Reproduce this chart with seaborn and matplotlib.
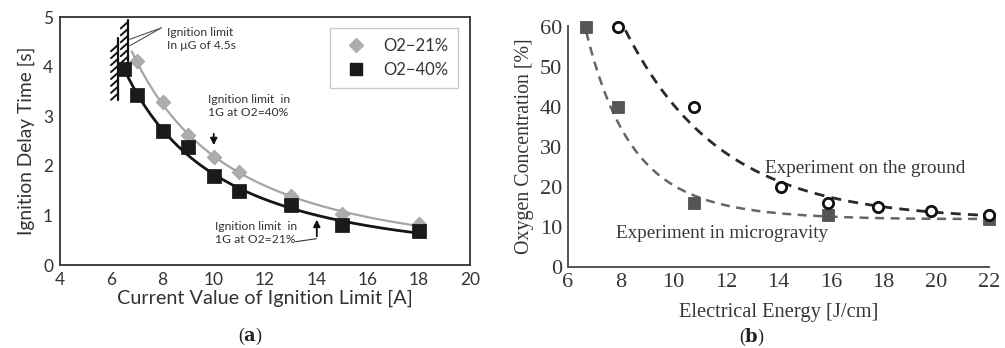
import numpy as np
import pandas as pd
import matplotlib
matplotlib.use("Agg")
import matplotlib.pyplot as plt
from matplotlib.lines import Line2D
import seaborn as sns

# ---------------- data: panel (a) ----------------
a_x21 = [7, 8, 9, 10, 11, 13, 15, 18]
a_y21 = [4.12, 3.28, 2.62, 2.17, 1.88, 1.40, 1.02, 0.82]
a_x40 = [6.5, 7, 8, 9, 10, 11, 13, 15, 18]
a_y40 = [3.95, 3.42, 2.70, 2.37, 1.80, 1.50, 1.20, 0.80, 0.68]
a_xticks = [4, 6, 8, 10, 12, 14, 16, 18, 20]
a_yticks = [0, 1, 2, 3, 4, 5]
a_labels = ["O2\u221221%", "O2\u221240%"]

# ---------------- data: panel (b) ----------------
b_x_ground = [7.9, 10.8, 14.1, 15.9, 17.8, 19.8, 22.0]
b_y_ground = [60, 40, 20, 16, 15, 14, 13]
b_x_micro = [6.7, 7.9, 10.8, 15.9, 22.0]
b_y_micro = [60, 40, 16, 13, 12]
b_xticks = [6, 8, 10, 12, 14, 16, 18, 20, 22]
b_yticks = [0, 10, 20, 30, 40, 50, 60]

sns.set_theme(style="white")
plt.rcParams["font.family"] = ["Lato", "DejaVu Sans"]
plt.rcParams["mathtext.fontset"] = "dejavuserif"

fig = plt.figure(figsize=(10.05, 3.48), dpi=100)
axA = fig.add_axes([0.0597, 0.2385, 0.408, 0.7126])
axB = fig.add_axes([0.565, 0.2328, 0.419, 0.692])

# ---------------- panel (a) ----------------
def power_fit(x, y):
    p = np.polyfit(np.log(x), np.log(y), 1)
    return lambda t: np.exp(np.polyval(p, np.log(t)))

f21 = power_fit(a_x21, a_y21)
f40 = power_fit(a_x40, a_y40)
t21 = np.linspace(6.8, 18, 200)
t40 = np.linspace(6.5, 18, 200)
sns.lineplot(x=t21, y=f21(t21), ax=axA, color="#a5a5a5", lw=1.6, sort=False)
sns.lineplot(x=t40, y=f40(t40), ax=axA, color="#151515", lw=2.0, sort=False)
sns.scatterplot(x=a_x21, y=a_y21, ax=axA, marker="D", s=55, color="#adadad",
                edgecolor="#a0a0a0", linewidth=0.6, zorder=5)
sns.scatterplot(x=a_x40, y=a_y40, ax=axA, marker="s", s=95, color="#1a1a1a",
                edgecolor="#111111", linewidth=0.5, zorder=6)

axA.set_xlim(4, 20)
axA.set_ylim(0, 5)
axA.set_xticks(a_xticks)
axA.set_yticks(a_yticks)
axA.tick_params(length=0, labelsize=12.5, colors="#333333", pad=5)
for s in axA.spines.values():
    s.set_visible(True)
    s.set_color("#333333")
    s.set_linewidth(1.3)
axA.set_xlabel("Current Value of Ignition Limit [A]", fontsize=14.3, color="#333333", labelpad=1)
axA.set_ylabel("Ignition Delay Time [s]", fontsize=13.8, color="#333333", labelpad=6)

# hatched limit lines
def hatched(ax, x, y0, y1):
    ax.plot([x, x], [y0, y1], color="#111111", lw=1.6, zorder=4)
    for yy in np.arange(y0 + 0.08, y1 - 0.05, 0.14):
        ax.plot([x - 0.28, x], [yy - 0.08, yy + 0.05], color="#111111", lw=1.4, zorder=4)

hatched(axA, 6.27, 3.33, 4.57)
hatched(axA, 6.65, 3.93, 4.94)
axA.plot([7.95, 6.72], [4.78, 4.55], color="#555555", lw=0.8)
axA.plot([7.95, 6.72], [4.78, 4.42], color="#555555", lw=0.8)

ann_kw = dict(fontsize=8.7, color="#333333", linespacing=1.2)
axA.text(8.18, 4.55, "Ignition limit\nIn \u03bcG of 4.5s", ha="left", va="center", **ann_kw)
axA.text(9.78, 3.2, "Ignition limit  in\n1G at O2=40%", ha="left", va="center", **ann_kw)
axA.text(10.05, 0.64, "Ignition limit  in\n1G at O2=21%", ha="left", va="center", **ann_kw)
axA.annotate("", xy=(10, 2.36), xytext=(10, 2.7),
             arrowprops=dict(arrowstyle="-|>", color="#111111", lw=1.3, mutation_scale=10))
axA.annotate("", xy=(14.02, 0.97), xytext=(14.02, 0.52),
             arrowprops=dict(arrowstyle="-|>", color="#111111", lw=1.3, mutation_scale=10))
axA.plot([13.2, 14.0], [0.47, 0.53], color="#333333", lw=0.8)

handles = [Line2D([], [], marker="D", ls="", color="#adadad", markersize=7),
           Line2D([], [], marker="s", ls="", color="#1a1a1a", markersize=9)]
leg = axA.legend(handles, a_labels, loc="upper right", bbox_to_anchor=(0.971, 0.956),
                 borderaxespad=0, frameon=True, fancybox=False, fontsize=12,
                 handletextpad=0.6, borderpad=0.6, labelspacing=0.5)
leg.get_frame().set_edgecolor("#bbbbbb")
leg.get_frame().set_linewidth(1.0)
for t in leg.get_texts():
    t.set_color("#333333")

# ---------------- panel (b) ----------------
def exp_fit(x, y, c, wpow, deg=1):
    x = np.asarray(x, float)
    r = np.asarray(y, float) - c
    p = np.polyfit(x, np.log(r), deg, w=r ** wpow)
    return lambda t: c + np.exp(np.polyval(p, t))

fg = exp_fit(b_x_ground, b_y_ground, 11.8, 0.5)
fm = exp_fit(b_x_micro, b_y_micro, 11.2, 0.0, deg=2)
tg = np.linspace(7.9, 22, 200)
tm = np.linspace(6.7, 22, 200)
sns.lineplot(x=tg, y=fg(tg), ax=axB, color="#2a2a2a", lw=2.0, sort=False)
sns.lineplot(x=tm, y=fm(tm), ax=axB, color="#666666", lw=1.8, sort=False)
for ln in axB.lines:
    ln.set_linestyle((0, (3.6, 2.6)))
sns.scatterplot(x=b_x_micro, y=b_y_micro, ax=axB, marker="s", s=70, color="#555555",
                edgecolor="#444444", linewidth=0.5, zorder=5, clip_on=False)
sns.scatterplot(x=b_x_ground, y=b_y_ground, ax=axB, marker="o", s=55, facecolor="white",
                edgecolor="#111111", linewidth=2.0, zorder=6, clip_on=False)

serif = ["Liberation Serif", "DejaVu Serif"]
axB.set_xlim(6, 22)
axB.set_ylim(0, 60.3)
axB.set_xticks(b_xticks)
axB.set_yticks(b_yticks)
axB.tick_params(direction="in", length=4, width=1.2, color="#555555",
                labelsize=16, labelcolor="#3a3530", pad=4)
for lab in axB.get_xticklabels() + axB.get_yticklabels():
    lab.set_family(serif)
for side in ["top", "right"]:
    axB.spines[side].set_visible(False)
for side in ["left", "bottom"]:
    axB.spines[side].set_color("#555555")
    axB.spines[side].set_linewidth(1.4)
axB.set_xlabel("Electrical Energy [J/cm]", fontsize=14.8, family=serif, color="#3a3530", labelpad=8)
axB.set_ylabel("Oxygen Concentration [%]", fontsize=14.3, family=serif, color="#3a3530", labelpad=4)
axB.text(13.49, 23.6, "Experiment on the ground", fontsize=13.8, family=serif,
         color="#3a3530", ha="left", va="baseline")
axB.text(7.82, 7.2, "Experiment in microgravity", fontsize=13.8, family=serif,
         color="#3a3530", ha="left", va="baseline")

# captions
fig.text(250 / 1005, 1 - 336 / 348, r"($\mathbf{a}$)", ha="center", va="center",
         fontsize=13, family=serif, color="#222222")
fig.text(752 / 1005, 1 - 337 / 348, r"($\mathbf{b}$)", ha="center", va="center",
         fontsize=13, family=serif, color="#222222")

fig.savefig("out.png", dpi=100)
